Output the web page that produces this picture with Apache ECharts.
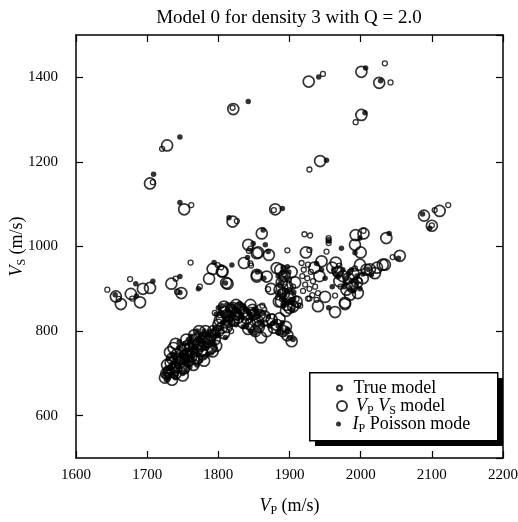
<!DOCTYPE html>
<html>
<head>
<meta charset="utf-8">
<script src="https://cdn.jsdelivr.net/npm/echarts@6/dist/echarts.min.js"></script>
<style>html,body{margin:0;padding:0;background:#fff}#c{width:518px;height:522px}</style>
</head>
<body>
<div id="c"></div>
<script>
// ---- data ----
const titleText = 'Model 0 for density 3 with Q = 2.0';
const xTicks = [1600, 1700, 1800, 1900, 2000, 2100, 2200];
const yTicks = [600, 800, 1000, 1200, 1400];
const seriesNames = ['True model', 'VP VS model', 'IP Poisson mode'];

const trueModel = [
  [1947,1408],[2034,1433],[2042,1388],[1993,1294],[1928,1182],[1878,1086],[2123,1098],[2104,1086],[2100,1050],
  [1820,1328],[1721,1231],[1708,1152],[1762,1098],[1826,1060],
  [1644,898],[1660,876],[1676,923],[1679,877],[1742,893],[1740,924],[1774,905],[1761,962],[1799,956],[1804,951],
  [1845,960],[1845,995],[1843,990],[1846,955],[1897,991],[1921,1029],[1929,1026],[1955,1015],[1955,1008],[1955,1020],
  [1928,992],[2004,1037],[2045,975],[1870,899],
  [1892,935],[1899,920],[1887,893],[1903,872],[1912,861],[1894,905],[1884,880],[1905,905],
  [1917,961],[1926,957],[1920,945],[1930,940],[1918,930],[1925,925],[1933,918],[1922,910],[1928,900],[1936,905],
  [1919,895],[1932,885],[1940,890],[1926,877],[1938,874],[1928,877],[1952,988],
  [1964,884],[1970,955],[1985,940],[1998,920],[1972,905],[1992,948],
  [1729,695],[1736,718],[1744,735],[1751,727],[1759,748],[1766,752],[1774,778],[1783,768],[1791,782],[1799,790],
  [1741,700],[1756,765],[1770,790],
  [1795,843],[1802,838],[1812,828],[1823,852],[1833,846],[1846,850],[1855,838],[1862,860],[1818,800],[1842,825],
  [1866,820],[1884,798],[1898,800],[1876,835],[1910,876],[1915,860]
];

const vpvsModel = [
  [1927,1390],[2001,1413],[2026,1387],[2001,1311],[1943,1202],[1880,1088],[2089,1073],[2111,1084],[2100,1049],
  [1821,1325],[1728,1239],[1704,1149],[1752,1088],[1820,1059],
  [1656,882],[1663,864],[1677,888],[1690,868],[1694,900],[1704,902],[1734,912],[1748,890],[1787,924],[1792,947],
  [1806,941],[1813,912],[1836,961],[1842,1004],[1854,984],[1854,929],[1861,1031],[1856,986],[1871,980],[1923,986],
  [1993,1027],[2004,1031],[1992,1004],[2000,986],[2036,1020],[2031,957],[2023,950],[2013,946],[2055,978],[2034,957],
  [2020,937],[1854,933],[1868,929],[1874,900],[1805,941],[1811,914],
  [1887,945],[1893,930],[1889,915],[1897,905],[1886,898],[1892,888],[1899,876],[1888,870],[1896,862],[1905,858],
  [1901,880],[1908,915],[1903,940],[1882,949],[1910,870],[1895,848],
  [1935,950],[1942,930],[1945,965],[1950,881],[1940,859],[1964,845],[1978,864],[1985,886],[1978,867],
  [1960,950],[1968,940],[1975,930],[1983,925],[1990,935],[1999,957],[1995,915],[1988,905],[1980,898],[1970,918],
  [2003,925],[1996,890],[1965,962],[2008,945],
  [1725,690],[1730,705],[1728,720],[1735,735],[1740,700],[1738,715],[1745,725],[1742,745],[1750,735],[1748,755],
  [1755,745],[1760,760],[1758,730],[1765,770],[1770,755],[1768,780],[1775,765],[1780,785],[1778,745],[1785,775],
  [1790,790],[1795,780],[1800,800],[1797,765],[1735,685],[1752,712],[1762,740],[1790,760],[1805,808],[1732,750],
  [1770,735],[1782,800],
  [1727,700],[1733,725],[1741,712],[1746,735],[1753,725],[1757,765],[1763,750],[1772,770],[1776,752],[1788,782],
  [1793,800],[1802,825],[1812,838],[1820,855],[1828,832],[1838,840],[1848,850],[1858,838],[1737,760],[1766,790],
  [1740,770],[1755,780],[1765,720],[1780,730],[1792,752],[1773,800],[1750,695],
  [1800,815],[1805,830],[1810,845],[1815,835],[1818,850],[1825,840],[1830,855],[1835,845],[1840,830],[1845,862],
  [1850,840],[1855,825],[1860,850],[1857,810],[1852,800],[1860,785],[1845,815],[1835,820],[1822,825],[1812,810],
  [1808,795],[1865,835],[1808,858],[1825,862],[1842,805],[1815,822],
  [1868,800],[1875,827],[1882,815],[1891,800],[1897,790],[1903,776],[1886,830],[1878,808],[1895,810],
  [1885,870],[1900,855]
];

const ipModel = [
  [1941,1401],[2007,1422],[2028,1392],[2006,1316],[1952,1204],[1890,1090],[2087,1077],[2097,1043],
  [1842,1343],[1746,1259],[1709,1171],[1746,1104],[1815,1068],
  [1655,886],[1684,912],[1685,883],[1708,918],[1746,929],[1746,891],[1772,900],[1794,962],[1819,956],[1810,914],
  [1841,974],[1849,1007],[1855,940],[1863,1039],[1866,1004],[1870,988],[1973,996],[1999,1020],[1992,985],[2040,1031],
  [2053,972],[2015,933],[1955,1013],[1864,925],
  [1890,940],[1895,925],[1886,910],[1900,898],[1893,885],[1889,875],[1898,868],[1904,850],[1892,860],[1906,892],
  [1884,930],[1897,952],[1888,920],[1896,895],[1902,875],[1885,890],[1899,940],[1891,950],[1905,865],
  [1945,945],[1950,925],[1955,855],[1938,960],[1960,905],
  [1962,945],[1972,935],[1980,925],[1987,918],[1994,910],[1999,900],[1985,900],[1978,912],[1990,895],[1968,928],
  [2003,935],[1975,945],[1995,930],[2010,946],[1965,935],[1983,935],[1992,920],[1977,905],[1987,945],
  [1727,685],[1732,698],[1730,712],[1737,728],[1743,707],[1747,740],[1752,750],[1757,728],[1762,755],[1767,762],
  [1773,772],[1777,758],[1782,780],[1788,770],[1793,785],[1798,795],[1740,690],[1755,720],[1772,745],[1786,790],
  [1803,805],[1745,760],[1760,775],
  [1724,695],[1726,705],[1729,690],[1733,715],[1736,705],[1738,740],[1741,722],[1744,715],[1749,725],[1751,740],
  [1754,735],[1756,755],[1759,740],[1761,765],[1764,748],[1766,775],[1769,760],[1771,782],[1775,780],[1779,770],
  [1781,792],[1784,760],[1789,798],[1791,775],[1795,805],[1800,790],[1806,820],[1809,830],[1815,840],[1818,828],
  [1822,838],[1824,855],[1829,845],[1834,832],[1836,858],[1841,848],[1846,838],[1851,852],[1856,835],[1861,845],
  [1736,695],[1748,748],[1763,738],[1776,790],[1794,770],
  [1730,735],[1735,745],[1745,775],[1750,700],[1755,705],[1760,715],[1765,725],[1770,720],[1752,770],[1758,780],
  [1775,730],[1780,740],[1785,745],[1790,748],[1780,800],[1770,800],[1795,760],[1762,788],
  [1797,840],[1803,845],[1808,835],[1813,850],[1820,842],[1826,848],[1832,838],[1838,852],[1843,842],[1848,830],
  [1853,845],[1858,820],[1816,815],[1810,785],[1840,810],[1850,795],[1827,830],
  [1800,855],[1805,860],[1812,862],[1820,860],[1830,865],[1817,820],[1825,815],[1835,810],[1845,800],[1855,805],
  [1862,815],[1832,860],
  [1872,812],[1880,822],[1888,805],[1893,795],[1900,785],[1905,780],[1870,835],[1893,865],
  [1876,818],[1884,812],[1890,820],[1897,805],[1885,795]
];

// ---- chart ----
const FONT = '"Liberation Serif", "DejaVu Serif", serif';
const rich = {
  i: {fontFamily: FONT, fontSize: 18, fontStyle: 'italic', color: '#000'},
  s: {fontFamily: FONT, fontSize: 12, color: '#000', padding: [9, 0, 0, 0]},
  n: {fontFamily: FONT, fontSize: 18, color: '#000'}
};
const legendLabels = {
  'True model': '{n|True model}',
  'VP VS model': '{i|V}{s|P} {i|V}{s|S}{n| model}',
  'IP Poisson mode': '{i|I}{s|P}{n| Poisson mode}'
};
function legendFor(name, top, h) {
  return {
    show: true, data: [{name: name, icon: 'circle'}], orient: 'vertical',
    left: 336, top: top, padding: 0, itemWidth: 18, itemHeight: h,
    selectedMode: false, z: 10,
    formatter: n => legendLabels[n],
    textStyle: {fontFamily: FONT, fontSize: 18, color: '#000', rich: rich}
  };
}
const axisCommon = {
  axisLine: {show: true, lineStyle: {color: '#000', width: 1.5}},
  axisTick: {show: true, inside: true, length: 7, lineStyle: {color: '#000', width: 1.2}},
  splitLine: {show: false}
};
const chart = echarts.init(document.getElementById('c'));
chart.setOption({
  animation: false,
  backgroundColor: '#fff',
  title: {
    text: titleText, left: 284, top: 4, textAlign: 'center',
    textStyle: {fontFamily: FONT, fontSize: 19, fontWeight: 'normal', color: '#000'}
  },
  grid: {left: 76, right: 15, top: 35, bottom: 64, show: false, containLabel: false, outerBoundsMode: 'none'},
  xAxis: [
    Object.assign({
      type: 'value', min: xTicks[0], max: xTicks[xTicks.length - 1], interval: 100, position: 'bottom',
      name: '{i|V}{s|P}{n| (m/s)}', nameLocation: 'middle', nameGap: 38,
      nameTextStyle: {rich: rich},
      axisLabel: {fontFamily: FONT, fontSize: 15, color: '#000', margin: 10, formatter: v => String(v)}
    }, axisCommon),
    Object.assign({
      type: 'value', min: xTicks[0], max: xTicks[xTicks.length - 1], interval: 100, position: 'top',
      axisLabel: {show: false}
    }, axisCommon)
  ],
  yAxis: [
    Object.assign({
      type: 'value', min: 500, max: 1500, splitNumber: 5, position: 'left',
      name: '{i|V}{s|S}{n| (m/s)}', nameLocation: 'middle', nameGap: 48, nameRotate: 90,
      nameMoveOverlap: false,
      nameTextStyle: {rich: rich},
      axisLabel: {fontFamily: FONT, fontSize: 15, color: '#000', margin: 18, showMinLabel: false, showMaxLabel: false,
        formatter: v => (yTicks.indexOf(v) >= 0 ? String(v) : '')}
    }, axisCommon),
    Object.assign({
      type: 'value', min: 500, max: 1500, splitNumber: 5, position: 'right',
      axisLabel: {show: false}
    }, axisCommon)
  ],
  legend: [
    legendFor('True model', 379, 5),
    legendFor('VP VS model', 397, 10),
    legendFor('IP Poisson mode', 415, 5)
  ],
  graphic: [
    {
      type: 'rect', left: 315, top: 378, z: 5,
      shape: {width: 188, height: 68},
      style: {fill: '#000', stroke: null}
    },
    {
      type: 'rect', left: 309, top: 372, z: 6,
      shape: {width: 188, height: 68},
      style: {fill: '#fff', stroke: '#000', lineWidth: 1.5}
    }
  ],
  series: [
    {
      name: 'True model', type: 'scatter', data: trueModel, symbol: 'circle', symbolSize: 5,
      itemStyle: {color: 'rgba(255,255,255,0)', borderColor: '#000', borderWidth: 1.3}, z: 2
    },
    {
      name: 'VP VS model', type: 'scatter', data: vpvsModel, symbol: 'circle', symbolSize: 11,
      itemStyle: {color: 'rgba(255,255,255,0)', borderColor: '#000', borderWidth: 1.7}, z: 2
    },
    {
      name: 'IP Poisson mode', type: 'scatter', data: ipModel, symbol: 'circle', symbolSize: 5.5,
      itemStyle: {color: '#000', borderWidth: 0}, z: 3
    }
  ]
});
</script>
</body>
</html>
